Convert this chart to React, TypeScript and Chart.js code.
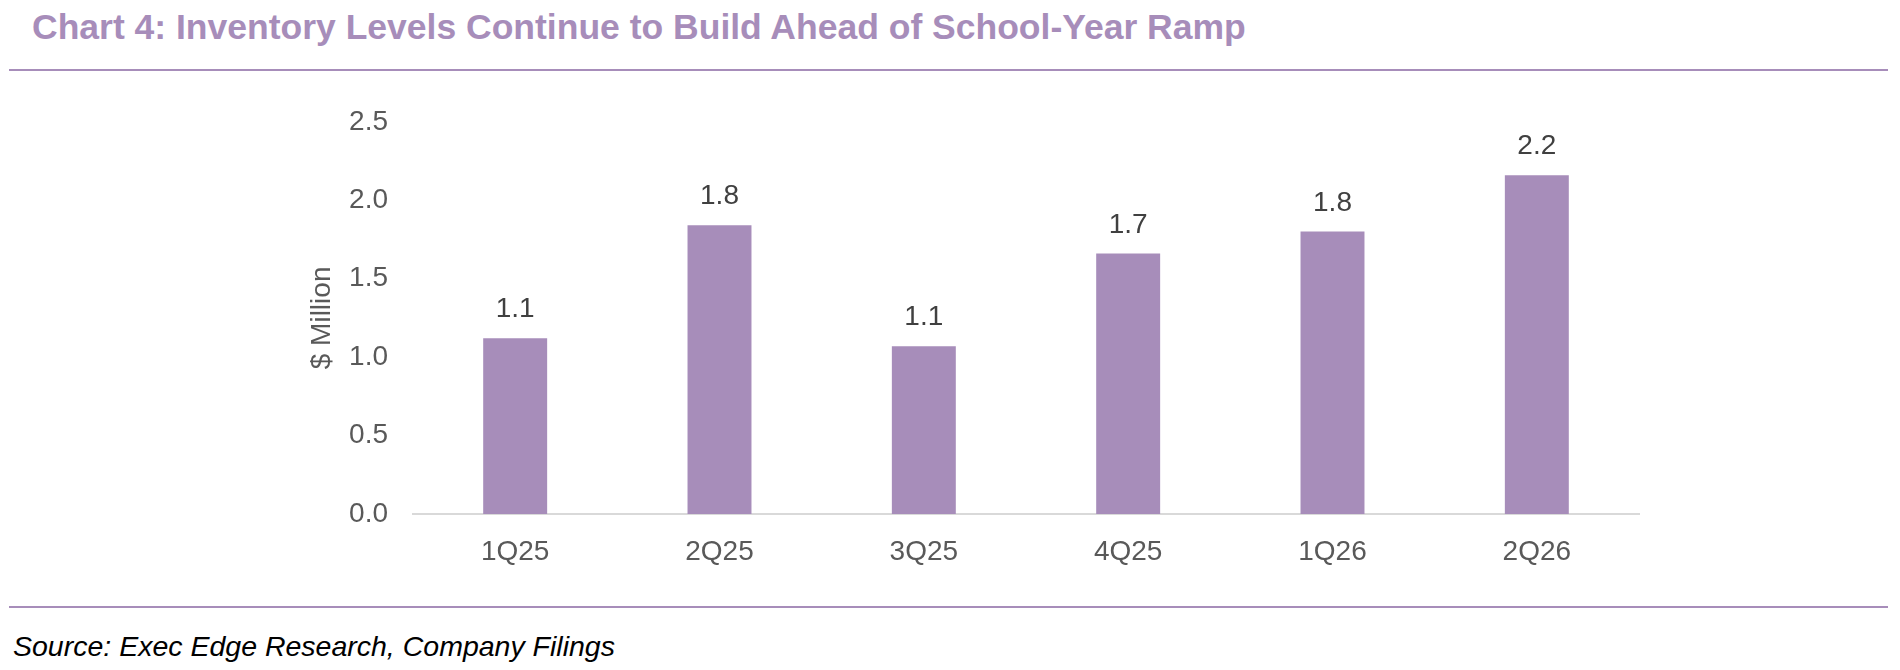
import { useEffect, useRef } from 'react';
import { Chart, registerables } from 'chart.js';

Chart.register(...registerables);

const quarters = ['1Q25', '2Q25', '3Q25', '4Q25', '1Q26', '2Q26'];
const inventory = [1.12, 1.84, 1.07, 1.66, 1.8, 2.16];
const yMin = 0;
const yMax = 2.5;
const yStep = 0.5;

const PURPLE = '#A78DBA';
const FONT = '"Liberation Sans", Arial, sans-serif';

// value labels above each bar, Excel style
const barLabels = {
  id: 'barLabels',
  afterDatasetsDraw(chart: Chart) {
    const { ctx } = chart;
    const meta = chart.getDatasetMeta(0);
    ctx.save();
    ctx.font = `28px ${FONT}`;
    ctx.fillStyle = '#404040';
    ctx.textAlign = 'center';
    ctx.textBaseline = 'alphabetic';
    meta.data.forEach((bar: any, i: number) => {
      ctx.fillText(inventory[i].toFixed(1), bar.x, bar.y - 21);
    });
    ctx.restore();
  },
};

function InventoryChart() {
  const canvasRef = useRef<HTMLCanvasElement>(null);
  const chartRef = useRef<Chart | null>(null);

  useEffect(() => {
    chartRef.current?.destroy();
    if (!canvasRef.current) return undefined;

    chartRef.current = new Chart(canvasRef.current, {
      type: 'bar',
      data: {
        labels: quarters,
        datasets: [
          {
            data: inventory,
            backgroundColor: PURPLE,
            barPercentage: 0.313,
            categoryPercentage: 1,
          },
        ],
      },
      options: {
        animation: false,
        responsive: false,
        maintainAspectRatio: false,
        layout: { padding: { top: 40, right: 261, left: 0, bottom: 0 } },
        plugins: {
          legend: { display: false },
          tooltip: { enabled: false },
          title: { display: false },
        },
        scales: {
          x: {
            grid: { display: false },
            border: { display: true, color: '#D9D9D9', width: 2 },
            ticks: {
              color: '#595959',
              font: { family: FONT, size: 28 },
              padding: 13,
              maxRotation: 0,
            },
            afterFit: (scale: any) => {
              scale.height = 76;
            },
          },
          y: {
            min: yMin,
            max: yMax,
            grid: { display: false, drawTicks: false },
            border: { display: false },
            ticks: {
              stepSize: yStep,
              color: '#595959',
              font: { family: FONT, size: 28 },
              padding: 25,
              callback: (v: any) => Number(v).toFixed(1),
            },
            title: {
              display: true,
              text: '$ Million',
              color: '#595959',
              font: { family: FONT, size: 28 },
              padding: { top: 305, bottom: 0 },
            },
            afterFit: (scale: any) => {
              scale.width = 413;
            },
          },
        },
      },
      plugins: [barLabels],
    });

    return () => {
      chartRef.current?.destroy();
      chartRef.current = null;
    };
  }, []);

  return (
    <canvas
      ref={canvasRef}
      width={1900}
      height={510}
      style={{ position: 'absolute', left: 0, top: 80, width: 1900, height: 510 }}
    />
  );
}

export default function App() {
  return (
    <div
      style={{
        position: 'fixed',
        left: 0,
        top: 0,
        width: 1900,
        height: 670,
        background: '#fff',
        overflow: 'hidden',
        fontFamily: FONT,
      }}
    >
      <div
        style={{
          position: 'absolute',
          left: 32,
          top: 10,
          fontSize: 35.5,
          lineHeight: 1,
          fontWeight: 'bold',
          color: PURPLE,
          whiteSpace: 'nowrap',
        }}
      >
        Chart 4: Inventory Levels Continue to Build Ahead of School-Year Ramp
      </div>
      <div style={{ position: 'absolute', left: 9, top: 69, width: 1879, height: 2, background: PURPLE }} />
      <InventoryChart />
      <div style={{ position: 'absolute', left: 9, top: 606, width: 1879, height: 2, background: PURPLE }} />
      <div
        style={{
          position: 'absolute',
          left: 13,
          top: 632,
          fontSize: 28.5,
          lineHeight: 1,
          fontStyle: 'italic',
          color: '#000',
          whiteSpace: 'nowrap',
        }}
      >
        Source: Exec Edge Research, Company Filings
      </div>
    </div>
  );
}
